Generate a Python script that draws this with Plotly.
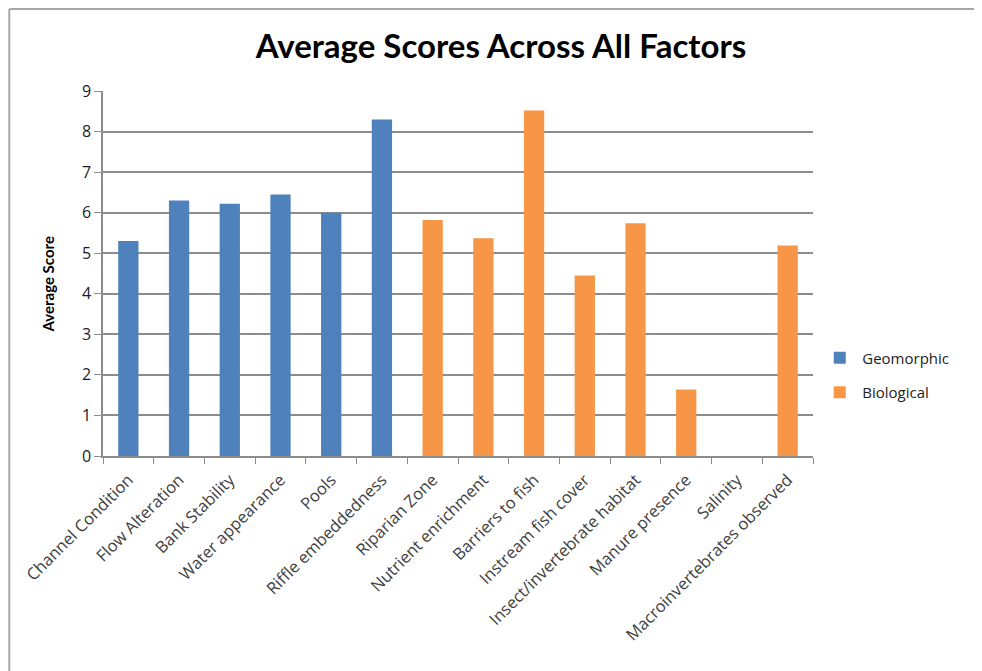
import plotly.graph_objects as go

factors = ['Channel Condition', 'Flow Alteration', 'Bank Stability', 'Water appearance',
           'Pools', 'Riffle embeddedness', 'Riparian Zone', 'Nutrient enrichment',
           'Barriers to fish', 'Instream fish cover', 'Insect/invertebrate habitat',
           'Manure presence', 'Salinity', 'Macroinvertebrates observed']

geomorphic = [5.3, 6.3, 6.22, 6.45, 6.0, 8.3,
              None, None, None, None, None, None, None, None]
biological = [None, None, None, None, None, None,
              5.82, 5.37, 8.52, 4.45, 5.74, 1.64, 0, 5.19]

colors = {'blue': '#4F81BD', 'orange': '#F79646', 'grid': '#8C8C8C', 'frame': '#A6A6A6'}
title_font = 'Lato, "Open Sans", sans-serif'
tick_font = '"Open Sans", Lato, sans-serif'

fig = go.Figure()
fig.add_trace(go.Bar(x=factors, y=geomorphic, name='Geomorphic', legendgroup='geo',
                     marker=dict(color=colors['blue'], line=dict(width=0))))
fig.add_trace(go.Bar(x=factors, y=biological, name='Biological', legendgroup='bio',
                     marker=dict(color=colors['orange'], line=dict(width=0))))

# the page body adds an 8px offset to everything
fig.update_layout(
    width=982, height=671,
    margin=dict(l=95, r=177, t=83, b=223),
    paper_bgcolor='white', plot_bgcolor='white',
    barmode='overlay', bargap=0.6,
    font=dict(family=tick_font, color='#222222'),
    title=dict(text='<b>Average Scores Across All Factors</b>', x=0.502, xanchor='center',
               xref='container', y=0.942, yanchor='middle',
               font=dict(size=33, color='black', family=title_font)),
    legend=dict(x=1.006, y=0.222, xanchor='left', yanchor='middle',
                font=dict(size=15, color='#222222', family=tick_font), tracegroupgap=12,
                itemwidth=35),
    showlegend=True,
)

fig.update_xaxes(tickangle=-45, tickfont=dict(size=16.5, color='#404040'),
                 showline=True, linecolor=colors['grid'], linewidth=1.5,
                 ticks='outside', ticklen=6, tickcolor=colors['grid'],
                 ticklabelstandoff=6,
                 tickson='boundaries', showgrid=False)
fig.update_yaxes(range=[0, 9], dtick=1, tickfont=dict(size=16, color='#1a1a2e'),
                 showgrid=True, gridcolor=colors['grid'], gridwidth=1.5,
                 showline=True, linecolor=colors['grid'], linewidth=1.5,
                 ticks='outside', ticklen=7, tickcolor=colors['grid'],
                 ticklabelstandoff=0, zeroline=False)

fig.add_annotation(text='<b>Average Score</b>', xref='paper', yref='paper',
                   x=-0.077, y=0.471, xanchor='center', yanchor='middle',
                   textangle=-90, showarrow=False,
                   font=dict(size=15, color='black', family=title_font))

# chart-area frame (Excel style), partly off screen
fig.add_shape(type='line', xref='paper', yref='paper', x0=-0.132, x1=-0.132, y0=-0.7, y1=1.225,
              line=dict(color=colors['frame'], width=2))
fig.add_shape(type='line', xref='paper', yref='paper', x0=-0.132, x1=1.3, y0=1.225, y1=1.225,
              line=dict(color=colors['frame'], width=2))

fig.write_html("out.html")
